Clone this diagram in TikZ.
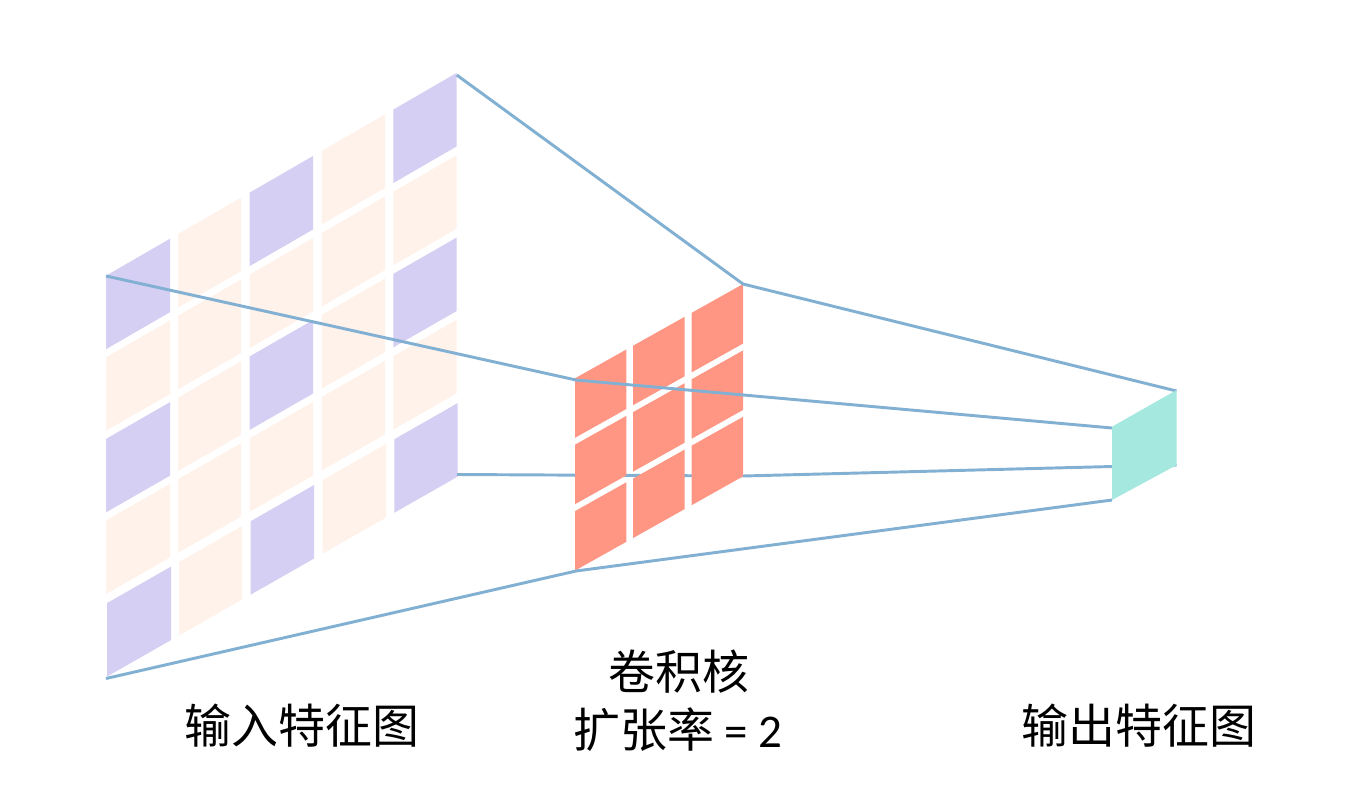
\documentclass[tikz,border=0pt]{standalone}
\usepackage{fontspec}
\setmainfont{Noto Sans CJK SC}
\newfontfamily\latinpart{Carlito}
\definecolor{cellp}{HTML}{D6CFF4}
\definecolor{cello}{HTML}{FFF2EA}
\definecolor{cellr}{HTML}{FF9684}
\definecolor{cellt}{HTML}{A5E8DF}
\definecolor{wire}{HTML}{82B0D3}
\tikzset{
  wirelink/.style={draw=wire,line width=2.2pt,line join=round},
  label/.style={font=\fontsize{35.2pt}{40pt}\selectfont,text=black,inner sep=0pt,align=center},
}
% input-map cell: left x, right x, row, colour
\newcommand{\incell}[4]{%
  \pgfmathsetmacro{\dx}{#3==4 ? 1 : 0}%
  \pgfmathsetmacro{\xa}{#1+\dx}\pgfmathsetmacro{\xb}{#2+\dx}%
  \pgfmathsetmacro{\ya}{275.7+\dx-0.5783*(#1-106)+#3*(81.6+0.7*(#1-106)/351)}%
  \pgfmathsetmacro{\yb}{275.7+\dx-0.5783*(#2-106)+#3*(81.6+0.7*(#2-106)/351)}%
  \fill[#4] (\xa,\ya) -- (\xb,\yb) -- (\xb,\yb+73.5) -- (\xa,\ya+73.5) -- cycle;%
}
% kernel cell: left x, right x, row
\newcommand{\kcell}[3]{%
  \pgfmathsetmacro{\ya}{378.3-0.561*(#1-575)+#3*66.4}%
  \pgfmathsetmacro{\yb}{378.3-0.561*(#2-575)+#3*66.4}%
  \fill[cellr] (#1,\ya) -- (#2,\yb) -- (#2,\yb+59.5) -- (#1,\ya+59.5) -- cycle;%
}
\begin{document}
\begin{tikzpicture}[x=0.75pt,y=-0.75pt]
\useasboundingbox (0,0) rectangle (1362,810);
\fill[white] (0,0) rectangle (1362,810);
% input grid
\foreach \r in {0,...,4}{
  \pgfmathtruncatemacro{\odd}{mod(\r,2)}
  \foreach \xl/\xr/\c in {106/170/0,178/241/1,249.7/313/2,321.7/385/3,393.3/456.7/4}{
    \pgfmathtruncatemacro{\pick}{(\odd==0 && mod(\c,2)==0) ? 1 : 0}
    \ifnum\pick=1 \incell{\xl}{\xr}{\r}{cellp}\else \incell{\xl}{\xr}{\r}{cello}\fi
  }
}
% named corners
\coordinate (inTR) at (456.7,75);
\coordinate (inTL) at (106,276);
\coordinate (inBR) at (457,474.5);
\coordinate (inBL) at (106,678.5);
\coordinate (kTR) at (743,284);
\coordinate (kTL) at (576,380);
\coordinate (kBR) at (743,476);
\coordinate (kBL) at (576,571);
\coordinate (oTR) at (1176.5,391);
\coordinate (oTL) at (1112,428);
\coordinate (oBR) at (1176.5,465);
\coordinate (oBL) at (1112,500);
% lines that pass behind the kernel
\draw[wirelink] (inBR) -- (kBR) -- (oBL |- 0,466.5) -- (oBR);
\foreach \r in {0,1,2}{
  \foreach \xl/\xr in {575/626.3,633/684.7,691.7/743}{
    \kcell{\xl}{\xr}{\r}
  }
}
\draw[wirelink] (inTR) -- (kTR) -- (oTR);
\draw[wirelink] (inTL) -- (kTL) -- (oTL);
\draw[wirelink] (inBL) -- (kBL) -- (oBL);
\fill[cellt] (1112,426.7) -- (1176.7,390) -- (1176.7,465) -- (1112,500) -- cycle;
% labels
\node[label] (lin) at (302,726) {输入特征图};
\node[label] (lk1) at (679,672) {卷积核};
\node[label] (lk2) at (678,730) {扩张率{\latinpart{} = 2}};
\node[label] (lout) at (1139,726) {输出特征图};
\end{tikzpicture}
\end{document}
